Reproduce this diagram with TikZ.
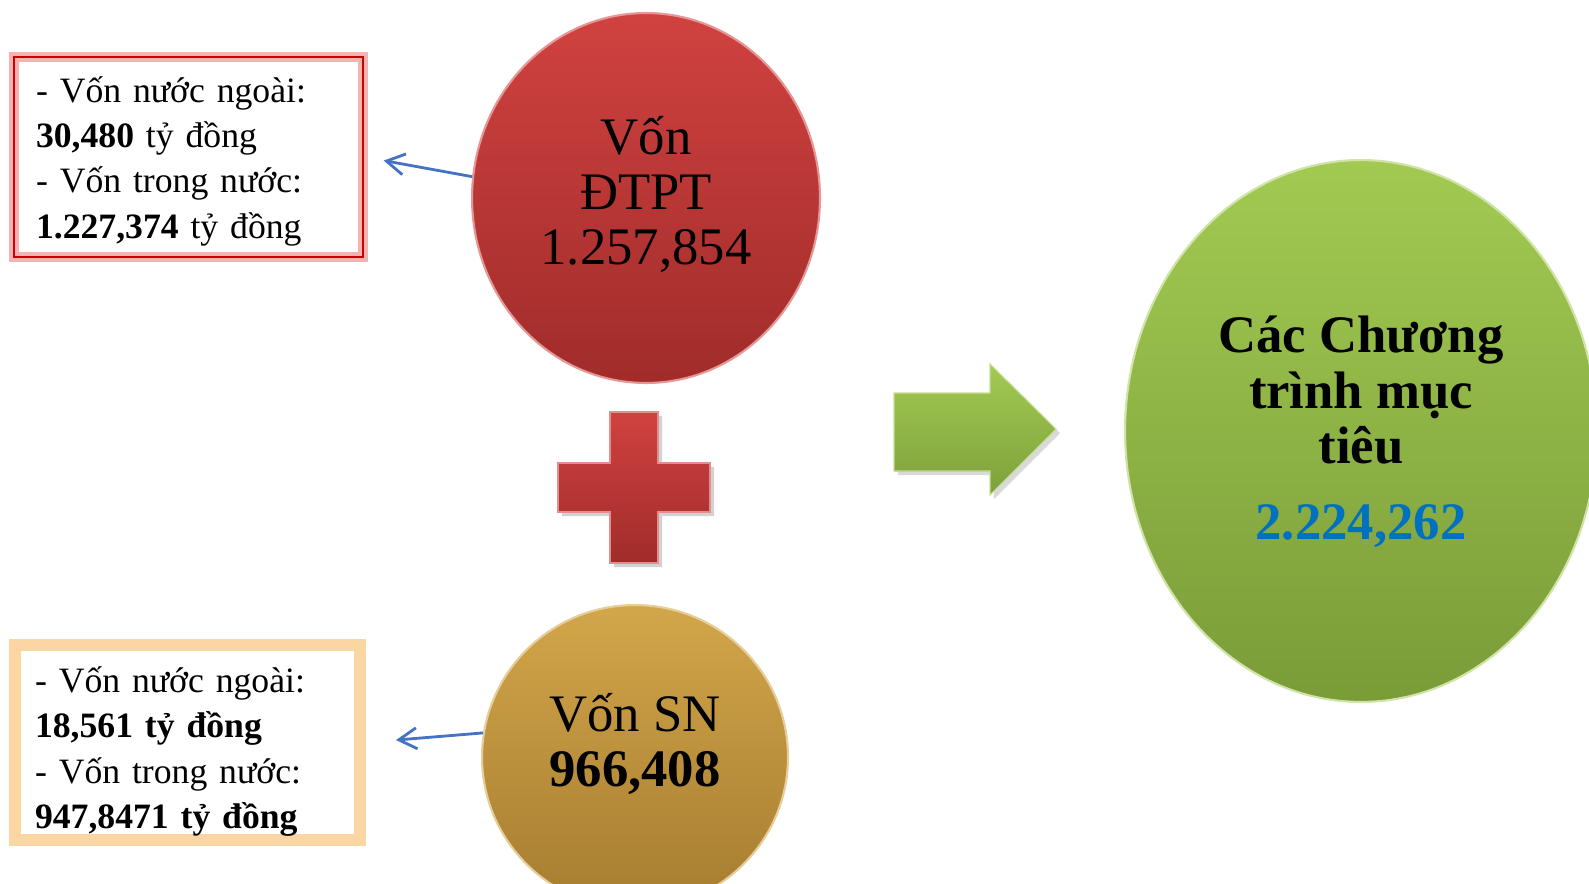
\documentclass[tikz,border=0pt]{standalone}
\usepackage{fontspec}
\setmainfont{Liberation Serif}
\usetikzlibrary{positioning,arrows.meta,shapes.geometric}

\definecolor{dtpttop}{RGB}{208,66,64}
\definecolor{dtptbot}{RGB}{160,44,42}
\definecolor{sntop}{RGB}{210,166,74}
\definecolor{snbot}{RGB}{166,124,48}
\definecolor{cttop}{RGB}{162,202,82}
\definecolor{ctbot}{RGB}{122,156,56}
\definecolor{numblue}{RGB}{0,112,192}
\definecolor{linkblue}{RGB}{68,114,196}
\definecolor{boxred}{RGB}{200,0,0}
\definecolor{boxglow}{RGB}{246,178,178}
\definecolor{boxorange}{RGB}{250,214,162}

\begin{document}
\begin{tikzpicture}[x=0.02cm, y=-0.02cm,
    bubble/.style={ellipse, inner sep=0pt, line width=1.2pt},
    bigtext/.style={font=\fontsize{30}{31.3}\selectfont, align=center},
    infobox/.style={rectangle, minimum width=#1, inner xsep=0.37cm, inner ysep=0.05cm,
        text width=6.1cm, align=left, font=\fontsize{20.3}{25.8}\selectfont},
    linkarrow/.style={draw=linkblue, line width=1.6pt,
        -{Straight Barb[length=0.36cm,width=0.42cm]}}]
  \useasboundingbox (0,0) rectangle (1589,883);

  % the three sums
  \node[bubble, top color=dtpttop, bottom color=dtptbot, draw=dtpttop!55!white,
        minimum width=6.96cm, minimum height=7.4cm] (vondtpt) at (646,198) {};
  \node[bigtext] (vondtpttext) at (646,194) {Vốn\\ĐTPT\\1.257,854};

  \node[bubble, top color=sntop, bottom color=snbot, draw=sntop!55!white,
        minimum width=6.12cm, minimum height=6.08cm] (vonsn) at (635,757) {};
  \node[bigtext] (vonsntext) at (635,744) {Vốn SN\\\textbf{966,408}};

  \node[bubble, top color=cttop, bottom color=ctbot, draw=cttop!50!white,
        minimum width=9.44cm, minimum height=10.84cm] (chuongtrinh) at (1361,431) {};
  \node[bigtext, font=\fontsize{30}{31.5}\selectfont\bfseries] (chuongtrinhtext) at (1361,432)
        {Các Chương\\trình mục\\tiêu\\[12pt]\textcolor{numblue}{2.224,262}};

  % the two breakdowns
  \node[infobox=6.98cm, minimum height=4cm, draw=boxred, line width=1.2pt,
        preaction={draw=boxglow, line width=5.5pt}] (boxdtpt) at (188.5,157)
        {\rule{0pt}{19.5pt}- Vốn nước ngoài:\\\textbf{30,480} tỷ đồng\\- Vốn trong nước:\\\textbf{1.227,374} tỷ đồng};
  \node[infobox=6.9cm, minimum height=3.9cm, draw=boxorange, line width=7pt] (boxsn) at (187.5,742.5)
        {\rule{0pt}{25pt}- Vốn nước ngoài:\\\textbf{18,561 tỷ đồng}\\- Vốn trong nước:\\\textbf{947,8471 tỷ đồng}};

  \draw[linkarrow, shorten >=0.4cm] (vondtpt.173) -- (boxdtpt.east);
  \draw[linkarrow, shorten >=0.6cm] (vonsn.171) -- (boxsn.east);

  % plus sign
  \fill[gray!35] (614,416) -- (662,416) -- (662,467) -- (714,467) -- (714,516) -- (662,516)
        -- (662,567) -- (614,567) -- (614,516) -- (562,516) -- (562,467) -- (614,467) -- cycle;
  \fill[top color=dtpttop, bottom color=dtptbot, draw=dtpttop!60!white, line width=0.6pt]
        (610,412) -- (658,412) -- (658,463) -- (710,463) -- (710,512) -- (658,512)
        -- (658,563) -- (610,563) -- (610,512) -- (558,512) -- (558,463) -- (610,463) -- cycle;

  % arrow to the total
  \fill[gray!30] (898,397) -- (994,397) -- (994,368) -- (1060,433) -- (994,499) -- (994,475)
        -- (898,475) -- cycle;
  \fill[top color=cttop, bottom color=ctbot!90!cttop, draw=cttop!60!white, line width=0.6pt]
        (894,393) -- (990,393) -- (990,364) -- (1056,429) -- (990,495) -- (990,471)
        -- (894,471) -- cycle;
\end{tikzpicture}
\end{document}
